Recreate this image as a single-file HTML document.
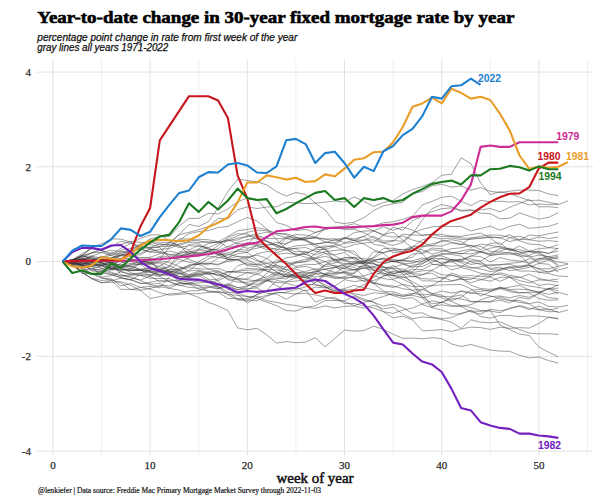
<!DOCTYPE html>
<html><head><meta charset="utf-8"><style>
html,body{margin:0;padding:0;background:#fff;width:600px;height:500px;overflow:hidden}
svg{display:block}
</style></head><body>
<svg width="600" height="500" viewBox="0 0 600 500">
<rect width="600" height="500" fill="#fff"/>
<g stroke="#f0f0f0" stroke-width="1"><line x1="101.5" y1="59" x2="101.5" y2="455" /><line x1="198.7" y1="59" x2="198.7" y2="455" /><line x1="295.9" y1="59" x2="295.9" y2="455" /><line x1="393.1" y1="59" x2="393.1" y2="455" /><line x1="490.3" y1="59" x2="490.3" y2="455" /><line x1="587.5" y1="59" x2="587.5" y2="455" /></g>
<g stroke="#e2e2e2" stroke-width="1"><line x1="52.9" y1="59" x2="52.9" y2="455" /><line x1="150.1" y1="59" x2="150.1" y2="455" /><line x1="247.3" y1="59" x2="247.3" y2="455" /><line x1="344.5" y1="59" x2="344.5" y2="455" /><line x1="441.7" y1="59" x2="441.7" y2="455" /><line x1="538.9" y1="59" x2="538.9" y2="455" /><line x1="37" y1="451.1" x2="593" y2="451.1" /><line x1="37" y1="356.4" x2="593" y2="356.4" /><line x1="37" y1="261.6" x2="593" y2="261.6" /><line x1="37" y1="166.8" x2="593" y2="166.8" /><line x1="37" y1="72.1" x2="593" y2="72.1" /></g>
<g fill="none" stroke="#333" stroke-opacity="0.72" stroke-width="0.65" stroke-linejoin="round"><path d="M62.6,261.6 L72.3,263.9 L82.1,265.5 L91.8,268.9 L101.5,270.2 L111.2,273.2 L120.9,275.9 L130.7,276.5 L140.4,280.4 L150.1,284.7 L159.8,286.7 L169.5,288.4 L179.3,290.1 L189.0,293.7 L198.7,297.5 L208.4,302.4 L218.1,305.9 L227.9,310.6 L237.6,327.9 L247.3,329.8 L257.0,328.3 L266.7,334.8 L276.5,343.1 L286.2,341.6 L295.9,342.7 L305.6,342.1 L315.3,337.7 L325.1,346.8 L334.8,338.4 L344.5,330.0 L354.2,331.1 L363.9,330.6 L373.7,326.2 L383.4,329.5 L393.1,334.2 L402.8,338.4 L412.5,338.0 L422.3,338.8 L432.0,337.7 L441.7,338.6 L451.4,343.9 L461.1,346.5 L470.9,344.5 L480.6,347.2 L490.3,350.0 L500.0,351.1 L509.7,351.4 L519.5,355.2 L529.2,357.9 L538.9,357.0 L548.6,360.6 L558.3,363.0"/><path d="M62.6,261.6 L72.3,262.2 L82.1,258.3 L91.8,261.3 L101.5,259.5 L111.2,258.4 L120.9,251.8 L130.7,253.4 L140.4,247.8 L150.1,248.5 L159.8,246.5 L169.5,242.6 L179.3,234.7 L189.0,232.3 L198.7,229.7 L208.4,226.6 L218.1,218.4 L227.9,218.7 L237.6,209.9 L247.3,206.9 L257.0,208.5 L266.7,207.0 L276.5,206.8 L286.2,202.3 L295.9,202.8 L305.6,203.6 L315.3,203.2 L325.1,202.1 L334.8,201.0 L344.5,202.0 L354.2,197.0 L363.9,201.3 L373.7,206.4 L383.4,202.5 L393.1,200.5 L402.8,194.0 L412.5,189.5 L422.3,186.5 L432.0,182.7 L441.7,175.3 L451.4,174.2 L461.1,157.9 L470.9,163.5 L480.6,182.9 L490.3,194.6 L500.0,191.7 L509.7,193.8 L519.5,197.0 L529.2,200.5 L538.9,200.2 L548.6,202.4 L558.3,203.9"/><path d="M62.6,261.6 L72.3,262.7 L82.1,264.2 L91.8,263.1 L101.5,265.9 L111.2,270.1 L120.9,269.1 L130.7,270.0 L140.4,269.2 L150.1,267.9 L159.8,269.8 L169.5,271.3 L179.3,272.4 L189.0,275.6 L198.7,274.5 L208.4,273.0 L218.1,274.9 L227.9,277.0 L237.6,278.2 L247.3,279.8 L257.0,280.8 L266.7,280.9 L276.5,282.4 L286.2,283.0 L295.9,286.0 L305.6,284.5 L315.3,284.7 L325.1,287.3 L334.8,290.9 L344.5,288.5 L354.2,285.3 L363.9,287.9 L373.7,289.8 L383.4,292.0 L393.1,291.7 L402.8,295.0 L412.5,293.4 L422.3,294.8 L432.0,294.2 L441.7,297.8 L451.4,301.5 L461.1,305.6 L470.9,307.5 L480.6,310.5 L490.3,310.3 L500.0,325.0 L509.7,329.6 L519.5,334.2 L529.2,335.4 L538.9,347.0 L548.6,352.2 L558.3,356.8"/><path d="M62.6,261.6 L72.3,261.6 L82.1,262.3 L91.8,266.5 L101.5,268.1 L111.2,272.1 L120.9,275.9 L130.7,274.9 L140.4,275.4 L150.1,278.3 L159.8,278.5 L169.5,278.8 L179.3,282.3 L189.0,284.5 L198.7,285.5 L208.4,291.9 L218.1,292.3 L227.9,292.3 L237.6,292.9 L247.3,296.5 L257.0,296.3 L266.7,300.7 L276.5,302.4 L286.2,304.3 L295.9,305.5 L305.6,307.5 L315.3,308.2 L325.1,305.9 L334.8,307.9 L344.5,306.4 L354.2,306.0 L363.9,308.2 L373.7,305.3 L383.4,308.9 L393.1,307.3 L402.8,314.0 L412.5,318.8 L422.3,317.0 L432.0,317.7 L441.7,319.5 L451.4,322.2 L461.1,328.3 L470.9,319.8 L480.6,322.2 L490.3,322.8 L500.0,321.8 L509.7,326.0 L519.5,329.6 L529.2,333.0 L538.9,333.8 L548.6,333.8 L558.3,334.4"/><path d="M62.6,261.6 L72.3,259.5 L82.1,256.9 L91.8,255.9 L101.5,258.3 L111.2,252.2 L120.9,254.3 L130.7,255.5 L140.4,254.9 L150.1,249.3 L159.8,252.7 L169.5,243.2 L179.3,234.3 L189.0,224.4 L198.7,226.4 L208.4,221.6 L218.1,207.8 L227.9,191.5 L237.6,179.2 L247.3,180.5 L257.0,181.8 L266.7,184.9 L276.5,191.6 L286.2,196.1 L295.9,192.5 L305.6,194.5 L315.3,203.2 L325.1,210.0 L334.8,222.2 L344.5,223.6 L354.2,222.1 L363.9,217.7 L373.7,210.5 L383.4,205.9 L393.1,203.9 L402.8,202.2 L412.5,193.5 L422.3,191.6 L432.0,185.7 L441.7,184.3 L451.4,187.1 L461.1,186.0 L470.9,190.2 L480.6,187.5 L490.3,191.3 L500.0,192.5 L509.7,191.2 L519.5,190.0 L529.2,190.0 L538.9,190.6 L548.6,194.0 L558.3,195.7"/><path d="M62.6,261.6 L72.3,262.6 L82.1,261.8 L91.8,264.3 L101.5,259.9 L111.2,259.6 L120.9,253.3 L130.7,250.8 L140.4,244.9 L150.1,239.1 L159.8,236.2 L169.5,236.5 L179.3,225.8 L189.0,218.4 L198.7,218.4 L208.4,213.4 L218.1,213.9 L227.9,208.9 L237.6,201.8 L247.3,198.0 L257.0,199.1 L266.7,210.5 L276.5,222.5 L286.2,225.3 L295.9,230.6 L305.6,229.3 L315.3,232.5 L325.1,228.9 L334.8,227.9 L344.5,227.9 L354.2,228.3 L363.9,226.9 L373.7,225.8 L383.4,222.8 L393.1,221.8 L402.8,219.2 L412.5,216.1 L422.3,204.9 L432.0,201.3 L441.7,197.3 L451.4,196.2 L461.1,201.2 L470.9,205.7 L480.6,200.4 L490.3,201.7 L500.0,201.2 L509.7,202.0 L519.5,201.6 L529.2,204.9 L538.9,204.1 L548.6,204.6 L558.3,204.6 L568.1,200.8"/><path d="M62.6,261.6 L72.3,260.5 L82.1,255.3 L91.8,253.0 L101.5,248.7 L111.2,246.1 L120.9,244.5 L130.7,241.4 L140.4,242.3 L150.1,242.6 L159.8,244.4 L169.5,244.9 L179.3,247.3 L189.0,245.7 L198.7,246.3 L208.4,247.5 L218.1,243.5 L227.9,240.1 L237.6,240.1 L247.3,235.8 L257.0,234.2 L266.7,232.2 L276.5,234.6 L286.2,237.9 L295.9,234.5 L305.6,235.0 L315.3,237.2 L325.1,241.9 L334.8,243.4 L344.5,247.7 L354.2,244.7 L363.9,243.0 L373.7,242.2 L383.4,235.2 L393.1,227.1 L402.8,230.1 L412.5,220.7 L422.3,216.3 L432.0,211.6 L441.7,208.7 L451.4,207.9 L461.1,211.1 L470.9,210.6 L480.6,209.8 L490.3,208.5 L500.0,211.8 L509.7,207.3 L519.5,203.4 L529.2,199.5 L538.9,206.8 L548.6,206.7 L558.3,207.7"/><path d="M62.6,261.6 L72.3,259.8 L82.1,255.5 L91.8,247.4 L101.5,250.7 L111.2,255.7 L120.9,250.1 L130.7,248.6 L140.4,244.9 L150.1,242.0 L159.8,242.3 L169.5,242.6 L179.3,245.0 L189.0,255.2 L198.7,256.1 L208.4,250.9 L218.1,254.9 L227.9,254.1 L237.6,256.5 L247.3,258.6 L257.0,253.9 L266.7,251.5 L276.5,252.6 L286.2,249.7 L295.9,254.2 L305.6,254.5 L315.3,248.5 L325.1,245.8 L334.8,246.5 L344.5,243.3 L354.2,242.5 L363.9,240.1 L373.7,239.9 L383.4,243.2 L393.1,245.4 L402.8,242.5 L412.5,234.4 L422.3,219.7 L432.0,208.6 L441.7,204.5 L451.4,206.8 L461.1,210.3 L470.9,209.8 L480.6,213.2 L490.3,213.7 L500.0,218.8 L509.7,218.2 L519.5,212.9 L529.2,216.2 L538.9,219.2 L548.6,217.3 L558.3,212.8"/><path d="M62.6,261.6 L72.3,262.3 L82.1,264.2 L91.8,261.2 L101.5,256.2 L111.2,259.2 L120.9,261.2 L130.7,259.9 L140.4,261.0 L150.1,263.1 L159.8,257.6 L169.5,258.8 L179.3,256.7 L189.0,254.6 L198.7,254.4 L208.4,251.9 L218.1,245.6 L227.9,237.4 L237.6,233.8 L247.3,234.0 L257.0,239.3 L266.7,241.4 L276.5,246.7 L286.2,248.3 L295.9,245.9 L305.6,245.1 L315.3,243.8 L325.1,242.8 L334.8,239.5 L344.5,237.8 L354.2,240.1 L363.9,240.1 L373.7,236.5 L383.4,241.1 L393.1,240.5 L402.8,241.3 L412.5,232.9 L422.3,229.3 L432.0,226.9 L441.7,226.2 L451.4,226.5 L461.1,226.4 L470.9,231.0 L480.6,228.5 L490.3,226.2 L500.0,230.2 L509.7,226.4 L519.5,224.3 L529.2,228.3 L538.9,227.4 L548.6,226.3 L558.3,223.3"/><path d="M62.6,261.6 L72.3,260.7 L82.1,259.9 L91.8,257.7 L101.5,259.9 L111.2,261.1 L120.9,255.1 L130.7,250.9 L140.4,243.8 L150.1,244.6 L159.8,246.5 L169.5,246.3 L179.3,238.8 L189.0,239.0 L198.7,240.8 L208.4,242.5 L218.1,242.7 L227.9,239.6 L237.6,235.9 L247.3,232.3 L257.0,230.2 L266.7,230.8 L276.5,233.1 L286.2,234.6 L295.9,239.4 L305.6,239.4 L315.3,237.1 L325.1,239.0 L334.8,238.7 L344.5,242.7 L354.2,240.4 L363.9,244.1 L373.7,249.7 L383.4,253.3 L393.1,261.4 L402.8,259.5 L412.5,257.2 L422.3,246.9 L432.0,245.6 L441.7,246.2 L451.4,242.9 L461.1,244.7 L470.9,237.7 L480.6,238.4 L490.3,236.6 L500.0,238.2 L509.7,234.7 L519.5,240.1 L529.2,235.0 L538.9,235.8 L548.6,233.8 L558.3,232.0"/><path d="M62.6,261.6 L72.3,260.0 L82.1,253.5 L91.8,248.9 L101.5,250.2 L111.2,246.6 L120.9,241.3 L130.7,243.3 L140.4,246.1 L150.1,247.5 L159.8,243.8 L169.5,245.2 L179.3,245.2 L189.0,242.3 L198.7,242.4 L208.4,241.8 L218.1,241.9 L227.9,241.1 L237.6,238.1 L247.3,236.7 L257.0,235.6 L266.7,238.5 L276.5,238.7 L286.2,238.7 L295.9,239.6 L305.6,237.4 L315.3,232.5 L325.1,229.7 L334.8,227.5 L344.5,229.5 L354.2,229.2 L363.9,232.8 L373.7,237.7 L383.4,242.7 L393.1,241.3 L402.8,234.2 L412.5,234.9 L422.3,235.4 L432.0,234.3 L441.7,236.7 L451.4,236.3 L461.1,237.8 L470.9,238.4 L480.6,236.2 L490.3,235.0 L500.0,235.2 L509.7,237.4 L519.5,236.2 L529.2,239.6 L538.9,236.9 L548.6,238.5 L558.3,237.2"/><path d="M62.6,261.6 L72.3,261.8 L82.1,262.4 L91.8,262.5 L101.5,259.7 L111.2,258.8 L120.9,255.3 L130.7,253.2 L140.4,247.0 L150.1,247.5 L159.8,247.5 L169.5,257.6 L179.3,259.4 L189.0,262.3 L198.7,264.3 L208.4,258.9 L218.1,255.4 L227.9,252.6 L237.6,251.0 L247.3,244.4 L257.0,245.3 L266.7,247.7 L276.5,254.3 L286.2,253.2 L295.9,254.2 L305.6,257.2 L315.3,259.9 L325.1,266.7 L334.8,265.2 L344.5,268.5 L354.2,263.5 L363.9,261.2 L373.7,257.9 L383.4,252.3 L393.1,250.2 L402.8,251.9 L412.5,247.0 L422.3,239.9 L432.0,237.0 L441.7,238.9 L451.4,238.0 L461.1,239.5 L470.9,239.5 L480.6,238.0 L490.3,237.5 L500.0,237.6 L509.7,241.6 L519.5,239.2 L529.2,239.8 L538.9,241.2 L548.6,240.7 L558.3,241.5"/><path d="M62.6,261.6 L72.3,260.8 L82.1,260.0 L91.8,260.1 L101.5,259.8 L111.2,254.1 L120.9,248.3 L130.7,243.4 L140.4,238.3 L150.1,235.0 L159.8,234.7 L169.5,240.9 L179.3,246.7 L189.0,250.0 L198.7,245.3 L208.4,249.0 L218.1,250.1 L227.9,259.6 L237.6,259.4 L247.3,264.7 L257.0,264.3 L266.7,258.6 L276.5,250.4 L286.2,243.4 L295.9,239.9 L305.6,238.6 L315.3,237.6 L325.1,227.5 L334.8,226.8 L344.5,226.2 L354.2,223.7 L363.9,226.7 L373.7,230.9 L383.4,234.5 L393.1,232.2 L402.8,240.1 L412.5,248.4 L422.3,253.8 L432.0,264.1 L441.7,265.7 L451.4,259.8 L461.1,259.4 L470.9,256.2 L480.6,252.1 L490.3,254.2 L500.0,252.0 L509.7,253.0 L519.5,253.9 L529.2,251.3 L538.9,248.7 L548.6,247.9 L558.3,244.6"/><path d="M62.6,261.6 L72.3,262.9 L82.1,266.6 L91.8,269.1 L101.5,270.0 L111.2,268.5 L120.9,265.4 L130.7,269.1 L140.4,264.0 L150.1,272.0 L159.8,275.2 L169.5,275.6 L179.3,274.0 L189.0,270.7 L198.7,263.2 L208.4,264.8 L218.1,257.9 L227.9,255.1 L237.6,251.0 L247.3,252.4 L257.0,244.7 L266.7,244.7 L276.5,244.7 L286.2,236.6 L295.9,237.9 L305.6,237.9 L315.3,238.2 L325.1,239.2 L334.8,240.8 L344.5,238.7 L354.2,232.6 L363.9,231.1 L373.7,230.8 L383.4,226.9 L393.1,230.2 L402.8,227.0 L412.5,230.2 L422.3,235.2 L432.0,234.5 L441.7,234.3 L451.4,236.3 L461.1,236.3 L470.9,234.7 L480.6,233.0 L490.3,238.0 L500.0,245.3 L509.7,237.7 L519.5,240.7 L529.2,244.0 L538.9,244.6 L548.6,247.6 L558.3,248.6"/><path d="M62.6,261.6 L72.3,260.4 L82.1,257.8 L91.8,252.7 L101.5,250.1 L111.2,253.8 L120.9,255.8 L130.7,255.9 L140.4,257.6 L150.1,258.4 L159.8,259.2 L169.5,246.9 L179.3,240.5 L189.0,233.5 L198.7,231.6 L208.4,230.6 L218.1,227.5 L227.9,226.4 L237.6,221.7 L247.3,217.5 L257.0,221.0 L266.7,228.8 L276.5,239.4 L286.2,249.1 L295.9,248.5 L305.6,254.4 L315.3,258.2 L325.1,261.5 L334.8,266.5 L344.5,272.1 L354.2,273.5 L363.9,265.7 L373.7,266.5 L383.4,263.7 L393.1,261.1 L402.8,260.2 L412.5,262.2 L422.3,261.6 L432.0,255.7 L441.7,254.7 L451.4,253.2 L461.1,251.0 L470.9,249.1 L480.6,251.6 L490.3,253.8 L500.0,248.3 L509.7,249.5 L519.5,251.9 L529.2,255.5 L538.9,251.1 L548.6,253.5 L558.3,248.2"/><path d="M62.6,261.6 L72.3,265.4 L82.1,271.5 L91.8,278.9 L101.5,282.9 L111.2,280.6 L120.9,289.3 L130.7,289.4 L140.4,290.3 L150.1,298.5 L159.8,296.6 L169.5,293.8 L179.3,293.3 L189.0,291.0 L198.7,290.6 L208.4,287.5 L218.1,285.1 L227.9,285.8 L237.6,276.6 L247.3,272.8 L257.0,274.6 L266.7,268.5 L276.5,259.9 L286.2,263.4 L295.9,262.9 L305.6,261.4 L315.3,253.4 L325.1,247.3 L334.8,245.0 L344.5,237.7 L354.2,238.9 L363.9,236.5 L373.7,230.8 L383.4,235.5 L393.1,237.2 L402.8,235.9 L412.5,240.0 L422.3,242.5 L432.0,246.1 L441.7,240.3 L451.4,242.2 L461.1,244.1 L470.9,245.8 L480.6,246.1 L490.3,251.6 L500.0,251.0 L509.7,248.2 L519.5,252.2 L529.2,251.6 L538.9,251.9 L548.6,253.3 L558.3,251.0"/><path d="M62.6,261.6 L72.3,260.5 L82.1,255.8 L91.8,258.8 L101.5,263.8 L111.2,262.6 L120.9,261.7 L130.7,261.7 L140.4,263.4 L150.1,261.0 L159.8,256.3 L169.5,256.3 L179.3,256.3 L189.0,252.1 L198.7,253.9 L208.4,255.0 L218.1,253.0 L227.9,258.0 L237.6,249.5 L247.3,250.2 L257.0,248.2 L266.7,245.7 L276.5,242.3 L286.2,244.2 L295.9,237.6 L305.6,240.0 L315.3,247.1 L325.1,247.9 L334.8,262.0 L344.5,263.4 L354.2,263.3 L363.9,263.5 L373.7,251.6 L383.4,252.8 L393.1,249.8 L402.8,249.7 L412.5,249.3 L422.3,252.3 L432.0,248.1 L441.7,248.6 L451.4,252.5 L461.1,254.0 L470.9,250.3 L480.6,251.7 L490.3,248.1 L500.0,246.5 L509.7,248.7 L519.5,254.5 L529.2,257.2 L538.9,255.2 L548.6,256.8 L558.3,254.9"/><path d="M62.6,261.6 L72.3,260.0 L82.1,255.1 L91.8,259.7 L101.5,256.7 L111.2,257.7 L120.9,255.7 L130.7,256.2 L140.4,258.3 L150.1,257.3 L159.8,253.8 L169.5,251.0 L179.3,253.6 L189.0,250.8 L198.7,253.7 L208.4,251.9 L218.1,254.3 L227.9,250.3 L237.6,244.6 L247.3,248.4 L257.0,245.8 L266.7,249.7 L276.5,248.3 L286.2,238.2 L295.9,240.2 L305.6,239.9 L315.3,244.5 L325.1,242.3 L334.8,242.8 L344.5,238.0 L354.2,240.9 L363.9,236.1 L373.7,244.4 L383.4,245.9 L393.1,252.5 L402.8,251.8 L412.5,247.9 L422.3,249.7 L432.0,254.1 L441.7,251.7 L451.4,248.7 L461.1,247.8 L470.9,245.2 L480.6,249.6 L490.3,243.3 L500.0,242.9 L509.7,250.8 L519.5,246.1 L529.2,250.9 L538.9,252.1 L548.6,259.6 L558.3,257.6"/><path d="M62.6,261.6 L72.3,261.0 L82.1,259.2 L91.8,256.2 L101.5,252.6 L111.2,255.5 L120.9,258.7 L130.7,259.0 L140.4,260.7 L150.1,262.6 L159.8,263.2 L169.5,271.5 L179.3,273.1 L189.0,277.5 L198.7,276.2 L208.4,271.8 L218.1,276.0 L227.9,271.4 L237.6,272.7 L247.3,272.5 L257.0,272.1 L266.7,266.6 L276.5,265.3 L286.2,267.3 L295.9,262.7 L305.6,261.7 L315.3,258.5 L325.1,256.3 L334.8,259.6 L344.5,257.9 L354.2,257.6 L363.9,258.7 L373.7,259.4 L383.4,259.5 L393.1,261.7 L402.8,260.4 L412.5,254.1 L422.3,253.6 L432.0,249.8 L441.7,250.6 L451.4,252.6 L461.1,253.5 L470.9,253.9 L480.6,251.8 L490.3,255.5 L500.0,254.3 L509.7,254.2 L519.5,255.3 L529.2,263.9 L538.9,260.2 L548.6,258.3 L558.3,256.3"/><path d="M62.6,261.6 L72.3,261.9 L82.1,260.0 L91.8,262.0 L101.5,268.5 L111.2,266.7 L120.9,259.6 L130.7,252.8 L140.4,253.4 L150.1,248.6 L159.8,251.5 L169.5,254.4 L179.3,254.2 L189.0,259.5 L198.7,263.1 L208.4,263.2 L218.1,265.1 L227.9,259.7 L237.6,260.1 L247.3,260.0 L257.0,264.3 L266.7,267.3 L276.5,267.3 L286.2,273.9 L295.9,269.0 L305.6,272.9 L315.3,273.1 L325.1,273.9 L334.8,277.9 L344.5,276.8 L354.2,272.7 L363.9,262.7 L373.7,257.1 L383.4,248.5 L393.1,248.2 L402.8,250.1 L412.5,246.4 L422.3,246.4 L432.0,243.8 L441.7,241.6 L451.4,239.7 L461.1,241.5 L470.9,247.5 L480.6,244.1 L490.3,245.3 L500.0,247.0 L509.7,250.0 L519.5,249.7 L529.2,251.9 L538.9,253.5 L548.6,257.0 L558.3,259.0"/><path d="M62.6,261.6 L72.3,261.7 L82.1,260.8 L91.8,265.7 L101.5,264.5 L111.2,268.7 L120.9,270.6 L130.7,270.8 L140.4,270.0 L150.1,268.6 L159.8,272.4 L169.5,270.0 L179.3,262.4 L189.0,257.8 L198.7,249.8 L208.4,250.8 L218.1,248.8 L227.9,239.8 L237.6,243.6 L247.3,244.3 L257.0,234.9 L266.7,241.0 L276.5,244.8 L286.2,248.5 L295.9,251.8 L305.6,251.4 L315.3,254.9 L325.1,251.5 L334.8,250.4 L344.5,249.8 L354.2,254.1 L363.9,260.4 L373.7,261.1 L383.4,263.6 L393.1,260.8 L402.8,263.9 L412.5,263.2 L422.3,259.5 L432.0,256.5 L441.7,255.8 L451.4,259.6 L461.1,261.1 L470.9,255.9 L480.6,256.6 L490.3,261.9 L500.0,257.5 L509.7,260.0 L519.5,260.9 L529.2,263.3 L538.9,258.3 L548.6,259.2 L558.3,262.0 L568.1,263.6"/><path d="M62.6,261.6 L72.3,262.2 L82.1,263.1 L91.8,265.1 L101.5,264.7 L111.2,268.0 L120.9,270.1 L130.7,268.6 L140.4,269.9 L150.1,270.5 L159.8,266.0 L169.5,260.4 L179.3,252.1 L189.0,252.1 L198.7,248.9 L208.4,243.5 L218.1,241.8 L227.9,236.4 L237.6,230.8 L247.3,229.4 L257.0,227.7 L266.7,229.6 L276.5,233.8 L286.2,233.6 L295.9,236.9 L305.6,241.1 L315.3,244.8 L325.1,249.5 L334.8,255.8 L344.5,260.8 L354.2,261.6 L363.9,261.2 L373.7,260.8 L383.4,258.3 L393.1,261.6 L402.8,263.0 L412.5,268.0 L422.3,261.1 L432.0,258.0 L441.7,258.8 L451.4,261.1 L461.1,266.9 L470.9,260.9 L480.6,261.1 L490.3,255.2 L500.0,253.9 L509.7,252.4 L519.5,256.3 L529.2,255.9 L538.9,263.1 L548.6,260.0 L558.3,264.6"/><path d="M62.6,261.6 L72.3,262.3 L82.1,265.9 L91.8,266.3 L101.5,277.2 L111.2,275.7 L120.9,271.7 L130.7,274.9 L140.4,273.5 L150.1,271.8 L159.8,275.0 L169.5,273.0 L179.3,267.8 L189.0,266.8 L198.7,261.8 L208.4,256.1 L218.1,257.4 L227.9,259.1 L237.6,256.3 L247.3,256.6 L257.0,260.8 L266.7,263.2 L276.5,267.0 L286.2,269.9 L295.9,267.6 L305.6,266.3 L315.3,269.3 L325.1,274.7 L334.8,276.5 L344.5,278.1 L354.2,277.2 L363.9,278.6 L373.7,283.6 L383.4,275.6 L393.1,275.3 L402.8,274.8 L412.5,272.6 L422.3,270.8 L432.0,270.1 L441.7,265.2 L451.4,266.1 L461.1,265.8 L470.9,268.1 L480.6,266.9 L490.3,264.7 L500.0,264.9 L509.7,264.3 L519.5,267.3 L529.2,265.8 L538.9,268.7 L548.6,268.9 L558.3,266.2 L568.1,264.3"/><path d="M62.6,261.6 L72.3,260.5 L82.1,256.6 L91.8,252.9 L101.5,252.4 L111.2,250.2 L120.9,251.7 L130.7,250.9 L140.4,249.2 L150.1,252.1 L159.8,252.8 L169.5,254.9 L179.3,255.6 L189.0,253.7 L198.7,252.6 L208.4,251.4 L218.1,252.2 L227.9,257.8 L237.6,253.7 L247.3,252.4 L257.0,259.7 L266.7,265.9 L276.5,271.9 L286.2,274.8 L295.9,274.6 L305.6,275.3 L315.3,282.7 L325.1,273.1 L334.8,273.1 L344.5,273.2 L354.2,276.8 L363.9,275.9 L373.7,272.7 L383.4,274.2 L393.1,271.1 L402.8,271.1 L412.5,265.1 L422.3,263.7 L432.0,258.3 L441.7,263.8 L451.4,259.9 L461.1,261.0 L470.9,264.4 L480.6,263.0 L490.3,265.9 L500.0,264.6 L509.7,263.3 L519.5,262.4 L529.2,258.9 L538.9,259.1 L548.6,256.3 L558.3,267.1"/><path d="M62.6,261.6 L72.3,262.6 L82.1,265.2 L91.8,264.3 L101.5,265.4 L111.2,263.7 L120.9,264.8 L130.7,263.5 L140.4,264.6 L150.1,264.5 L159.8,262.1 L169.5,265.9 L179.3,270.1 L189.0,274.6 L198.7,271.1 L208.4,273.6 L218.1,273.9 L227.9,278.9 L237.6,279.9 L247.3,285.0 L257.0,287.4 L266.7,280.7 L276.5,279.2 L286.2,276.2 L295.9,273.3 L305.6,271.4 L315.3,268.9 L325.1,269.2 L334.8,267.0 L344.5,264.4 L354.2,262.5 L363.9,262.5 L373.7,263.6 L383.4,267.5 L393.1,267.4 L402.8,264.3 L412.5,266.6 L422.3,266.4 L432.0,262.2 L441.7,258.3 L451.4,259.8 L461.1,262.6 L470.9,267.6 L480.6,268.9 L490.3,271.6 L500.0,270.5 L509.7,268.1 L519.5,267.4 L529.2,264.7 L538.9,269.1 L548.6,272.2 L558.3,267.7"/><path d="M62.6,261.6 L72.3,261.7 L82.1,258.8 L91.8,261.7 L101.5,262.6 L111.2,268.9 L120.9,263.1 L130.7,259.8 L140.4,260.7 L150.1,262.9 L159.8,268.8 L169.5,271.2 L179.3,271.1 L189.0,265.1 L198.7,264.2 L208.4,268.8 L218.1,271.7 L227.9,275.6 L237.6,279.0 L247.3,284.0 L257.0,284.3 L266.7,280.1 L276.5,277.8 L286.2,279.0 L295.9,272.6 L305.6,273.2 L315.3,271.9 L325.1,264.7 L334.8,259.7 L344.5,260.0 L354.2,257.8 L363.9,261.9 L373.7,269.8 L383.4,273.8 L393.1,275.3 L402.8,277.7 L412.5,276.2 L422.3,278.6 L432.0,279.1 L441.7,277.1 L451.4,280.6 L461.1,279.4 L470.9,279.5 L480.6,274.7 L490.3,275.1 L500.0,269.3 L509.7,266.9 L519.5,271.1 L529.2,271.0 L538.9,272.1 L548.6,271.8 L558.3,270.1 L568.1,267.4"/><path d="M62.6,261.6 L72.3,260.1 L82.1,260.0 L91.8,256.4 L101.5,262.2 L111.2,260.1 L120.9,258.3 L130.7,258.3 L140.4,263.7 L150.1,263.3 L159.8,266.7 L169.5,270.0 L179.3,269.3 L189.0,267.8 L198.7,268.7 L208.4,269.2 L218.1,268.4 L227.9,272.0 L237.6,271.5 L247.3,270.1 L257.0,269.8 L266.7,270.6 L276.5,275.7 L286.2,276.9 L295.9,277.8 L305.6,276.4 L315.3,284.6 L325.1,286.3 L334.8,292.8 L344.5,290.1 L354.2,289.5 L363.9,284.8 L373.7,277.4 L383.4,270.2 L393.1,273.8 L402.8,271.6 L412.5,271.7 L422.3,263.6 L432.0,258.7 L441.7,253.4 L451.4,254.4 L461.1,256.1 L470.9,261.9 L480.6,264.4 L490.3,268.4 L500.0,267.2 L509.7,270.8 L519.5,269.2 L529.2,267.3 L538.9,263.3 L548.6,264.3 L558.3,272.2"/><path d="M62.6,261.6 L72.3,264.0 L82.1,268.4 L91.8,273.4 L101.5,278.4 L111.2,278.7 L120.9,285.9 L130.7,283.5 L140.4,287.3 L150.1,286.4 L159.8,287.8 L169.5,277.0 L179.3,269.4 L189.0,265.2 L198.7,264.2 L208.4,263.5 L218.1,264.2 L227.9,261.5 L237.6,259.5 L247.3,257.2 L257.0,255.1 L266.7,258.3 L276.5,265.3 L286.2,269.6 L295.9,273.6 L305.6,274.7 L315.3,276.9 L325.1,276.1 L334.8,274.8 L344.5,271.6 L354.2,269.7 L363.9,265.7 L373.7,260.4 L383.4,258.1 L393.1,259.3 L402.8,260.9 L412.5,260.8 L422.3,258.0 L432.0,260.2 L441.7,263.0 L451.4,262.0 L461.1,259.4 L470.9,258.9 L480.6,261.3 L490.3,269.5 L500.0,269.1 L509.7,267.0 L519.5,266.0 L529.2,264.9 L538.9,272.4 L548.6,273.6 L558.3,276.0 L568.1,276.5"/><path d="M62.6,261.6 L72.3,260.6 L82.1,260.9 L91.8,260.5 L101.5,259.6 L111.2,262.9 L120.9,260.9 L130.7,267.7 L140.4,263.0 L150.1,266.6 L159.8,269.7 L169.5,272.6 L179.3,276.7 L189.0,278.8 L198.7,279.5 L208.4,282.7 L218.1,286.8 L227.9,292.0 L237.6,299.2 L247.3,300.1 L257.0,300.8 L266.7,296.2 L276.5,293.0 L286.2,292.3 L295.9,289.4 L305.6,287.0 L315.3,282.6 L325.1,274.9 L334.8,267.4 L344.5,268.8 L354.2,269.5 L363.9,268.3 L373.7,270.4 L383.4,270.1 L393.1,265.5 L402.8,271.5 L412.5,269.6 L422.3,269.6 L432.0,264.5 L441.7,264.1 L451.4,269.8 L461.1,267.5 L470.9,270.1 L480.6,273.2 L490.3,274.4 L500.0,274.3 L509.7,276.9 L519.5,277.7 L529.2,274.1 L538.9,278.6 L548.6,280.2 L558.3,279.1"/><path d="M62.6,261.6 L72.3,262.7 L82.1,264.6 L91.8,271.0 L101.5,271.5 L111.2,267.1 L120.9,269.3 L130.7,270.4 L140.4,270.3 L150.1,272.1 L159.8,270.7 L169.5,273.2 L179.3,276.5 L189.0,276.6 L198.7,275.2 L208.4,281.3 L218.1,283.6 L227.9,285.4 L237.6,289.9 L247.3,286.6 L257.0,279.7 L266.7,276.9 L276.5,272.1 L286.2,276.9 L295.9,276.1 L305.6,277.8 L315.3,271.7 L325.1,269.4 L334.8,267.6 L344.5,265.2 L354.2,264.3 L363.9,262.9 L373.7,264.1 L383.4,266.4 L393.1,274.0 L402.8,271.1 L412.5,273.9 L422.3,280.9 L432.0,280.9 L441.7,281.7 L451.4,281.3 L461.1,278.4 L470.9,282.7 L480.6,279.9 L490.3,276.9 L500.0,281.3 L509.7,277.2 L519.5,280.6 L529.2,282.8 L538.9,279.8 L548.6,280.7 L558.3,282.1"/><path d="M62.6,261.6 L72.3,264.1 L82.1,264.4 L91.8,262.3 L101.5,265.4 L111.2,261.2 L120.9,267.2 L130.7,264.6 L140.4,261.7 L150.1,260.2 L159.8,271.1 L169.5,272.0 L179.3,277.1 L189.0,277.0 L198.7,273.9 L208.4,274.5 L218.1,272.1 L227.9,279.8 L237.6,282.1 L247.3,282.4 L257.0,280.2 L266.7,279.3 L276.5,285.7 L286.2,290.2 L295.9,287.6 L305.6,291.0 L315.3,287.1 L325.1,287.9 L334.8,286.0 L344.5,279.6 L354.2,281.6 L363.9,280.3 L373.7,280.5 L383.4,276.4 L393.1,272.0 L402.8,272.1 L412.5,276.9 L422.3,274.9 L432.0,270.6 L441.7,274.8 L451.4,275.1 L461.1,277.5 L470.9,278.0 L480.6,279.4 L490.3,281.2 L500.0,277.4 L509.7,277.2 L519.5,284.0 L529.2,286.1 L538.9,287.4 L548.6,289.5 L558.3,284.5"/><path d="M62.6,261.6 L72.3,263.3 L82.1,268.9 L91.8,270.1 L101.5,272.5 L111.2,269.3 L120.9,267.8 L130.7,266.1 L140.4,269.5 L150.1,276.0 L159.8,271.6 L169.5,272.5 L179.3,273.6 L189.0,277.9 L198.7,281.1 L208.4,281.8 L218.1,288.0 L227.9,284.7 L237.6,287.5 L247.3,288.8 L257.0,288.0 L266.7,293.3 L276.5,294.1 L286.2,299.3 L295.9,293.9 L305.6,293.3 L315.3,294.9 L325.1,297.1 L334.8,299.1 L344.5,301.6 L354.2,305.6 L363.9,302.4 L373.7,299.5 L383.4,296.4 L393.1,293.5 L402.8,296.5 L412.5,294.2 L422.3,289.5 L432.0,285.4 L441.7,280.1 L451.4,273.0 L461.1,276.2 L470.9,275.6 L480.6,276.7 L490.3,276.5 L500.0,272.7 L509.7,275.3 L519.5,277.0 L529.2,280.7 L538.9,285.4 L548.6,284.0 L558.3,285.8"/><path d="M62.6,261.6 L72.3,261.8 L82.1,264.0 L91.8,266.2 L101.5,265.6 L111.2,269.7 L120.9,266.5 L130.7,272.6 L140.4,275.4 L150.1,276.1 L159.8,270.0 L169.5,266.1 L179.3,253.2 L189.0,244.5 L198.7,243.7 L208.4,249.3 L218.1,250.3 L227.9,246.6 L237.6,242.4 L247.3,239.6 L257.0,238.0 L266.7,241.2 L276.5,245.8 L286.2,248.2 L295.9,255.5 L305.6,252.2 L315.3,260.7 L325.1,269.4 L334.8,272.3 L344.5,272.4 L354.2,275.5 L363.9,278.4 L373.7,282.5 L383.4,284.9 L393.1,286.0 L402.8,288.7 L412.5,290.2 L422.3,289.3 L432.0,293.5 L441.7,295.1 L451.4,300.6 L461.1,297.0 L470.9,290.1 L480.6,289.4 L490.3,291.4 L500.0,288.8 L509.7,287.1 L519.5,285.3 L529.2,290.1 L538.9,292.3 L548.6,288.4 L558.3,288.2"/><path d="M62.6,261.6 L72.3,260.5 L82.1,256.0 L91.8,247.1 L101.5,243.9 L111.2,238.9 L120.9,239.1 L130.7,242.1 L140.4,248.8 L150.1,251.8 L159.8,249.2 L169.5,248.6 L179.3,243.8 L189.0,241.4 L198.7,239.2 L208.4,239.8 L218.1,241.5 L227.9,247.2 L237.6,245.9 L247.3,245.6 L257.0,241.3 L266.7,246.9 L276.5,249.7 L286.2,249.4 L295.9,248.3 L305.6,247.5 L315.3,251.3 L325.1,252.9 L334.8,260.5 L344.5,259.6 L354.2,265.4 L363.9,267.3 L373.7,267.1 L383.4,266.9 L393.1,268.9 L402.8,273.7 L412.5,284.1 L422.3,298.1 L432.0,307.4 L441.7,301.9 L451.4,305.6 L461.1,305.8 L470.9,304.8 L480.6,299.8 L490.3,296.6 L500.0,296.0 L509.7,297.8 L519.5,295.5 L529.2,297.3 L538.9,293.5 L548.6,288.4 L558.3,290.8"/><path d="M62.6,261.6 L72.3,262.8 L82.1,264.9 L91.8,268.8 L101.5,265.9 L111.2,262.5 L120.9,265.0 L130.7,266.2 L140.4,269.9 L150.1,270.5 L159.8,274.1 L169.5,274.6 L179.3,281.5 L189.0,274.8 L198.7,273.4 L208.4,279.2 L218.1,286.8 L227.9,294.8 L237.6,299.8 L247.3,301.1 L257.0,294.1 L266.7,291.7 L276.5,290.2 L286.2,281.7 L295.9,277.6 L305.6,280.9 L315.3,280.5 L325.1,284.8 L334.8,289.5 L344.5,289.9 L354.2,293.7 L363.9,295.5 L373.7,292.8 L383.4,293.5 L393.1,295.0 L402.8,296.1 L412.5,295.3 L422.3,297.9 L432.0,295.4 L441.7,296.5 L451.4,296.9 L461.1,290.7 L470.9,292.7 L480.6,291.3 L490.3,290.2 L500.0,287.4 L509.7,289.5 L519.5,289.2 L529.2,289.8 L538.9,292.0 L548.6,294.4 L558.3,292.3 L568.1,295.0"/><path d="M62.6,261.6 L72.3,265.3 L82.1,270.7 L91.8,274.6 L101.5,272.9 L111.2,274.6 L120.9,277.5 L130.7,280.2 L140.4,274.4 L150.1,274.4 L159.8,276.4 L169.5,281.8 L179.3,285.2 L189.0,287.3 L198.7,288.2 L208.4,286.9 L218.1,289.0 L227.9,283.4 L237.6,287.7 L247.3,285.8 L257.0,281.9 L266.7,273.6 L276.5,263.1 L286.2,257.8 L295.9,256.4 L305.6,252.9 L315.3,249.6 L325.1,249.5 L334.8,246.5 L344.5,250.6 L354.2,251.1 L363.9,262.0 L373.7,262.8 L383.4,269.7 L393.1,268.6 L402.8,269.0 L412.5,273.8 L422.3,274.3 L432.0,273.2 L441.7,278.8 L451.4,274.9 L461.1,278.3 L470.9,285.2 L480.6,288.6 L490.3,289.3 L500.0,288.4 L509.7,291.7 L519.5,293.0 L529.2,292.1 L538.9,292.6 L548.6,288.6 L558.3,293.9"/><path d="M62.6,261.6 L72.3,259.6 L82.1,259.0 L91.8,257.7 L101.5,262.7 L111.2,266.5 L120.9,268.3 L130.7,270.5 L140.4,270.5 L150.1,271.7 L159.8,276.3 L169.5,268.8 L179.3,270.6 L189.0,277.2 L198.7,271.9 L208.4,273.3 L218.1,281.2 L227.9,289.1 L237.6,294.0 L247.3,303.0 L257.0,297.6 L266.7,295.4 L276.5,292.1 L286.2,293.1 L295.9,294.0 L305.6,289.8 L315.3,302.2 L325.1,298.5 L334.8,297.3 L344.5,303.6 L354.2,303.5 L363.9,306.0 L373.7,308.1 L383.4,311.6 L393.1,313.4 L402.8,309.9 L412.5,308.0 L422.3,304.0 L432.0,300.8 L441.7,302.8 L451.4,297.0 L461.1,294.8 L470.9,301.6 L480.6,301.6 L490.3,302.0 L500.0,300.2 L509.7,302.9 L519.5,297.3 L529.2,299.1 L538.9,293.3 L548.6,297.6 L558.3,298.6"/><path d="M62.6,261.6 L72.3,262.8 L82.1,266.7 L91.8,274.6 L101.5,271.5 L111.2,274.6 L120.9,277.8 L130.7,279.7 L140.4,283.0 L150.1,284.0 L159.8,283.6 L169.5,288.1 L179.3,283.5 L189.0,283.2 L198.7,280.5 L208.4,280.0 L218.1,279.1 L227.9,272.1 L237.6,270.9 L247.3,268.3 L257.0,268.9 L266.7,269.5 L276.5,270.0 L286.2,271.7 L295.9,276.5 L305.6,277.3 L315.3,273.9 L325.1,276.3 L334.8,278.4 L344.5,278.4 L354.2,276.6 L363.9,281.4 L373.7,283.2 L383.4,285.7 L393.1,287.4 L402.8,284.4 L412.5,286.5 L422.3,286.4 L432.0,285.7 L441.7,284.9 L451.4,284.7 L461.1,284.5 L470.9,288.8 L480.6,296.0 L490.3,291.7 L500.0,287.1 L509.7,290.4 L519.5,292.5 L529.2,292.9 L538.9,298.6 L548.6,300.2 L558.3,299.9"/><path d="M62.6,261.6 L72.3,264.9 L82.1,273.5 L91.8,273.6 L101.5,277.3 L111.2,280.8 L120.9,278.2 L130.7,279.7 L140.4,283.6 L150.1,282.3 L159.8,280.3 L169.5,281.5 L179.3,285.5 L189.0,283.8 L198.7,289.1 L208.4,290.9 L218.1,292.2 L227.9,298.5 L237.6,298.4 L247.3,298.7 L257.0,294.9 L266.7,290.6 L276.5,280.5 L286.2,281.9 L295.9,281.0 L305.6,279.9 L315.3,273.8 L325.1,265.1 L334.8,263.0 L344.5,257.5 L354.2,257.4 L363.9,264.2 L373.7,275.7 L383.4,278.6 L393.1,279.8 L402.8,284.6 L412.5,290.5 L422.3,296.6 L432.0,303.8 L441.7,302.4 L451.4,298.7 L461.1,298.8 L470.9,301.7 L480.6,301.7 L490.3,301.7 L500.0,296.8 L509.7,300.3 L519.5,300.6 L529.2,303.5 L538.9,302.0 L548.6,306.4 L558.3,306.9 L568.1,305.4"/><path d="M62.6,261.6 L72.3,263.5 L82.1,263.6 L91.8,263.2 L101.5,262.7 L111.2,267.7 L120.9,271.7 L130.7,273.9 L140.4,272.9 L150.1,270.2 L159.8,269.2 L169.5,266.8 L179.3,257.2 L189.0,253.8 L198.7,250.0 L208.4,247.7 L218.1,254.4 L227.9,259.8 L237.6,259.3 L247.3,265.6 L257.0,266.7 L266.7,271.2 L276.5,273.2 L286.2,276.3 L295.9,275.4 L305.6,277.8 L315.3,278.4 L325.1,286.9 L334.8,291.2 L344.5,290.9 L354.2,295.0 L363.9,299.2 L373.7,302.4 L383.4,306.0 L393.1,304.3 L402.8,307.6 L412.5,313.4 L422.3,312.8 L432.0,317.1 L441.7,318.6 L451.4,317.7 L461.1,313.2 L470.9,311.1 L480.6,311.3 L490.3,311.0 L500.0,312.7 L509.7,307.9 L519.5,306.3 L529.2,309.5 L538.9,306.2 L548.6,310.0 L558.3,308.2"/><path d="M62.6,261.6 L72.3,262.2 L82.1,259.2 L91.8,259.1 L101.5,261.7 L111.2,263.1 L120.9,274.5 L130.7,278.0 L140.4,280.1 L150.1,275.9 L159.8,282.0 L169.5,280.5 L179.3,280.4 L189.0,282.2 L198.7,285.7 L208.4,286.0 L218.1,288.5 L227.9,286.9 L237.6,289.7 L247.3,289.6 L257.0,285.5 L266.7,280.8 L276.5,274.8 L286.2,266.3 L295.9,261.7 L305.6,259.3 L315.3,257.9 L325.1,253.3 L334.8,254.9 L344.5,252.4 L354.2,259.6 L363.9,263.9 L373.7,270.1 L383.4,272.5 L393.1,279.2 L402.8,276.2 L412.5,281.7 L422.3,287.2 L432.0,294.2 L441.7,291.0 L451.4,293.0 L461.1,291.4 L470.9,293.4 L480.6,293.6 L490.3,295.9 L500.0,298.9 L509.7,300.6 L519.5,302.3 L529.2,304.0 L538.9,309.6 L548.6,308.9 L558.3,312.6 L568.1,310.0"/><path d="M62.6,261.6 L72.3,264.8 L82.1,272.5 L91.8,278.5 L101.5,282.6 L111.2,282.4 L120.9,281.7 L130.7,285.3 L140.4,290.3 L150.1,288.5 L159.8,285.4 L169.5,285.8 L179.3,282.9 L189.0,283.5 L198.7,282.9 L208.4,282.4 L218.1,280.6 L227.9,275.9 L237.6,265.8 L247.3,262.7 L257.0,265.2 L266.7,263.3 L276.5,262.3 L286.2,261.4 L295.9,266.5 L305.6,264.3 L315.3,264.5 L325.1,261.7 L334.8,258.8 L344.5,266.7 L354.2,270.4 L363.9,268.3 L373.7,267.8 L383.4,270.2 L393.1,276.1 L402.8,279.2 L412.5,283.9 L422.3,293.7 L432.0,306.7 L441.7,304.8 L451.4,306.3 L461.1,306.4 L470.9,311.9 L480.6,314.0 L490.3,309.2 L500.0,310.7 L509.7,309.1 L519.5,305.5 L529.2,308.1 L538.9,309.8 L548.6,311.7 L558.3,311.5"/><path d="M62.6,261.6 L72.3,262.5 L82.1,265.4 L91.8,266.2 L101.5,262.9 L111.2,265.4 L120.9,267.2 L130.7,265.1 L140.4,264.1 L150.1,263.7 L159.8,260.6 L169.5,262.7 L179.3,266.4 L189.0,271.1 L198.7,270.0 L208.4,272.3 L218.1,270.6 L227.9,275.6 L237.6,279.3 L247.3,278.9 L257.0,273.5 L266.7,278.6 L276.5,273.8 L286.2,274.7 L295.9,276.7 L305.6,275.2 L315.3,270.6 L325.1,274.5 L334.8,273.3 L344.5,266.7 L354.2,267.1 L363.9,276.6 L373.7,283.5 L383.4,290.9 L393.1,295.6 L402.8,298.7 L412.5,297.6 L422.3,304.3 L432.0,307.7 L441.7,310.0 L451.4,313.8 L461.1,314.0 L470.9,310.0 L480.6,316.6 L490.3,318.2 L500.0,315.4 L509.7,315.4 L519.5,316.7 L529.2,315.8 L538.9,316.1 L548.6,317.2 L558.3,318.4"/><path d="M62.6,261.6 L72.3,263.9 L82.1,272.8 L91.8,278.4 L101.5,280.5 L111.2,279.6 L120.9,282.9 L130.7,289.7 L140.4,287.5 L150.1,288.9 L159.8,292.7 L169.5,295.2 L179.3,294.4 L189.0,293.7 L198.7,293.6 L208.4,292.4 L218.1,291.1 L227.9,294.3 L237.6,295.4 L247.3,296.6 L257.0,298.6 L266.7,302.1 L276.5,305.6 L286.2,310.6 L295.9,311.0 L305.6,307.2 L315.3,305.8 L325.1,300.6 L334.8,300.5 L344.5,300.8 L354.2,296.1 L363.9,300.7 L373.7,301.8 L383.4,311.8 L393.1,317.8 L402.8,316.2 L412.5,319.9 L422.3,330.8 L432.0,330.4 L441.7,329.6 L451.4,331.5 L461.1,328.9 L470.9,327.2 L480.6,327.6 L490.3,329.4 L500.0,327.2 L509.7,328.3 L519.5,327.7 L529.2,328.1 L538.9,323.4 L548.6,317.3 L558.3,319.0"/></g>
<path d="M62.6,261.6 L72.3,261.1 L82.1,261.1 L91.8,260.7 L101.5,260.7 L111.2,260.7 L120.9,260.7 L130.7,260.7 L140.4,260.2 L150.1,259.7 L159.8,259.2 L169.5,258.3 L179.3,257.3 L189.0,256.4 L198.7,255.4 L208.4,254.0 L218.1,252.1 L227.9,249.3 L237.6,246.4 L247.3,243.6 L257.0,243.1 L266.7,237.0 L276.5,231.3 L286.2,230.3 L295.9,228.9 L305.6,227.0 L315.3,226.5 L325.1,228.0 L334.8,228.0 L344.5,227.5 L354.2,227.0 L363.9,226.5 L373.7,226.1 L383.4,225.1 L393.1,224.6 L402.8,222.7 L412.5,217.1 L422.3,215.6 L432.0,215.6 L441.7,215.6 L451.4,211.4 L461.1,200.5 L470.9,184.4 L480.6,146.9 L490.3,145.5 L500.0,146.9 L509.7,146.9 L519.5,142.2 L529.2,142.2 L538.9,142.2 L548.6,142.2 L558.3,142.2" fill="none" stroke="#cc2a94" stroke-width="2.1" stroke-linejoin="round"/>
<path d="M62.6,261.6 L72.3,261.1 L82.1,260.7 L91.8,260.7 L101.5,260.7 L111.2,260.2 L120.9,260.2 L130.7,252.1 L140.4,226.5 L150.1,208.1 L159.8,140.3 L169.5,125.6 L179.3,110.9 L189.0,96.2 L198.7,96.2 L208.4,96.2 L218.1,100.5 L227.9,118.0 L237.6,175.4 L247.3,198.6 L257.0,237.0 L266.7,246.4 L276.5,255.4 L286.2,264.0 L295.9,273.9 L305.6,283.9 L315.3,292.9 L325.1,290.5 L334.8,292.9 L344.5,292.9 L354.2,290.5 L363.9,289.6 L373.7,273.9 L383.4,262.1 L393.1,256.4 L402.8,253.1 L412.5,250.7 L422.3,244.5 L432.0,234.6 L441.7,226.5 L451.4,220.9 L461.1,218.0 L470.9,214.7 L480.6,207.6 L490.3,201.9 L500.0,197.2 L509.7,193.8 L519.5,193.4 L529.2,187.2 L538.9,168.3 L548.6,162.6 L558.3,162.6" fill="none" stroke="#c8161d" stroke-width="2.1" stroke-linejoin="round"/>
<path d="M62.6,261.6 L72.3,266.3 L82.1,267.8 L91.8,265.4 L101.5,257.3 L111.2,258.8 L120.9,259.7 L130.7,254.5 L140.4,245.5 L150.1,240.8 L159.8,239.8 L169.5,240.3 L179.3,241.2 L189.0,240.3 L198.7,235.5 L208.4,227.0 L218.1,222.7 L227.9,217.5 L237.6,202.4 L247.3,182.5 L257.0,182.5 L266.7,175.4 L276.5,177.3 L286.2,179.6 L295.9,177.7 L305.6,182.0 L315.3,181.1 L325.1,174.4 L334.8,176.3 L344.5,168.7 L354.2,159.7 L363.9,158.3 L373.7,152.2 L383.4,151.7 L393.1,142.2 L402.8,127.0 L412.5,106.7 L422.3,103.4 L432.0,97.7 L441.7,103.4 L451.4,88.7 L461.1,92.9 L470.9,98.6 L480.6,96.7 L490.3,100.0 L500.0,113.8 L509.7,130.4 L519.5,155.5 L529.2,168.7 L538.9,166.4 L548.6,167.8 L558.3,166.8 L568.1,162.1" fill="none" stroke="#e89e28" stroke-width="2.1" stroke-linejoin="round"/>
<path d="M62.6,261.6 L72.3,252.1 L82.1,247.9 L91.8,247.9 L101.5,249.8 L111.2,245.5 L120.9,245.0 L130.7,252.1 L140.4,261.6 L150.1,268.2 L159.8,271.1 L169.5,274.4 L179.3,278.7 L189.0,279.6 L198.7,279.6 L208.4,282.0 L218.1,284.3 L227.9,287.7 L237.6,292.4 L247.3,291.0 L257.0,291.9 L266.7,291.0 L276.5,289.6 L286.2,288.6 L295.9,287.7 L305.6,282.0 L315.3,279.6 L325.1,281.0 L334.8,287.2 L344.5,293.8 L354.2,298.1 L363.9,304.2 L373.7,315.6 L383.4,329.4 L393.1,342.6 L402.8,344.5 L412.5,353.5 L422.3,361.6 L432.0,364.4 L441.7,372.0 L451.4,388.6 L461.1,408.0 L470.9,410.4 L480.6,422.2 L490.3,425.5 L500.0,427.9 L509.7,428.9 L519.5,433.6 L529.2,433.6 L538.9,435.5 L548.6,436.4 L558.3,437.9" fill="none" stroke="#7420bf" stroke-width="2.1" stroke-linejoin="round"/>
<path d="M62.6,261.6 L72.3,273.0 L82.1,270.6 L91.8,273.9 L101.5,273.9 L111.2,263.5 L120.9,267.8 L130.7,258.3 L140.4,249.8 L150.1,242.6 L159.8,236.5 L169.5,234.6 L179.3,221.8 L189.0,203.3 L198.7,211.9 L208.4,201.9 L218.1,209.5 L227.9,200.5 L237.6,188.6 L247.3,198.1 L257.0,200.0 L266.7,199.1 L276.5,213.3 L286.2,209.0 L295.9,203.3 L305.6,198.1 L315.3,192.9 L325.1,191.0 L334.8,200.0 L344.5,198.1 L354.2,207.1 L363.9,198.1 L373.7,200.0 L383.4,198.1 L393.1,201.9 L402.8,200.0 L412.5,193.8 L422.3,189.1 L432.0,183.9 L441.7,182.0 L451.4,180.6 L461.1,184.4 L470.9,175.4 L480.6,175.4 L490.3,169.2 L500.0,168.7 L509.7,165.9 L519.5,167.3 L529.2,170.6 L538.9,166.4 L548.6,169.2 L558.3,169.2" fill="none" stroke="#1b7a20" stroke-width="2.1" stroke-linejoin="round"/>
<path d="M62.6,261.6 L72.3,250.7 L82.1,245.5 L91.8,246.0 L101.5,246.0 L111.2,239.3 L120.9,228.4 L130.7,229.9 L140.4,236.0 L150.1,231.8 L159.8,217.1 L169.5,204.7 L179.3,192.9 L189.0,190.5 L198.7,177.3 L208.4,172.1 L218.1,172.5 L227.9,164.5 L237.6,163.0 L247.3,165.4 L257.0,172.5 L266.7,173.0 L276.5,166.4 L286.2,140.3 L295.9,138.9 L305.6,144.1 L315.3,163.0 L325.1,153.1 L334.8,151.7 L344.5,163.0 L354.2,177.7 L363.9,166.8 L373.7,171.1 L383.4,151.2 L393.1,146.0 L402.8,135.1 L412.5,128.9 L422.3,116.1 L432.0,96.7 L441.7,98.6 L451.4,86.3 L461.1,85.3 L470.9,78.7 L480.6,84.9" fill="none" stroke="#2080d0" stroke-width="2.1" stroke-linejoin="round"/>
<text x="478.0" y="81.7" font-family='"Liberation Sans", sans-serif' font-weight="bold" font-size="10.4" fill="#2080d0">2022</text>
<text x="556.2" y="139.6" font-family='"Liberation Sans", sans-serif' font-weight="bold" font-size="10.4" fill="#cc2a94">1979</text>
<text x="537.4" y="159.8" font-family='"Liberation Sans", sans-serif' font-weight="bold" font-size="10.4" fill="#c8161d">1980</text>
<text x="566.0" y="159.8" font-family='"Liberation Sans", sans-serif' font-weight="bold" font-size="10.4" fill="#e89e28">1981</text>
<text x="538.4" y="179.6" font-family='"Liberation Sans", sans-serif' font-weight="bold" font-size="10.4" fill="#1b7a20">1994</text>
<text x="538.0" y="448.7" font-family='"Liberation Sans", sans-serif' font-weight="bold" font-size="10.4" fill="#7420bf">1982</text>
<text x="31" y="75.9" text-anchor="end" font-family='"Liberation Serif", serif' font-size="11" fill="#2a2a2a" stroke="#2a2a2a" stroke-width="0.25">4</text>
<text x="31" y="170.6" text-anchor="end" font-family='"Liberation Serif", serif' font-size="11" fill="#2a2a2a" stroke="#2a2a2a" stroke-width="0.25">2</text>
<text x="31" y="265.4" text-anchor="end" font-family='"Liberation Serif", serif' font-size="11" fill="#2a2a2a" stroke="#2a2a2a" stroke-width="0.25">0</text>
<text x="31" y="360.2" text-anchor="end" font-family='"Liberation Serif", serif' font-size="11" fill="#2a2a2a" stroke="#2a2a2a" stroke-width="0.25">-2</text>
<text x="31" y="454.9" text-anchor="end" font-family='"Liberation Serif", serif' font-size="11" fill="#2a2a2a" stroke="#2a2a2a" stroke-width="0.25">-4</text>
<text x="52.9" y="469.3" text-anchor="middle" font-family='"Liberation Serif", serif' font-size="11" fill="#2a2a2a" stroke="#2a2a2a" stroke-width="0.25">0</text>
<text x="150.1" y="469.3" text-anchor="middle" font-family='"Liberation Serif", serif' font-size="11" fill="#2a2a2a" stroke="#2a2a2a" stroke-width="0.25">10</text>
<text x="247.3" y="469.3" text-anchor="middle" font-family='"Liberation Serif", serif' font-size="11" fill="#2a2a2a" stroke="#2a2a2a" stroke-width="0.25">20</text>
<text x="344.5" y="469.3" text-anchor="middle" font-family='"Liberation Serif", serif' font-size="11" fill="#2a2a2a" stroke="#2a2a2a" stroke-width="0.25">30</text>
<text x="441.7" y="469.3" text-anchor="middle" font-family='"Liberation Serif", serif' font-size="11" fill="#2a2a2a" stroke="#2a2a2a" stroke-width="0.25">40</text>
<text x="538.9" y="469.3" text-anchor="middle" font-family='"Liberation Serif", serif' font-size="11" fill="#2a2a2a" stroke="#2a2a2a" stroke-width="0.25">50</text>
<text x="276.5" y="483.3" textLength="77" lengthAdjust="spacingAndGlyphs" font-family='"Liberation Serif", serif' font-size="14" fill="#111" stroke="#111" stroke-width="0.5">week of year</text>
<text x="38" y="493" textLength="283" lengthAdjust="spacingAndGlyphs" font-family='"Liberation Serif", serif' font-size="7.8" fill="#111" stroke="#111" stroke-width="0.2">@lenkiefer | Data source: Freddie Mac Primary Mortgage Market Survey through 2022-11-03</text>
<text x="37.3" y="22.7" textLength="477" lengthAdjust="spacingAndGlyphs" font-family='"Liberation Serif", serif' font-weight="bold" font-size="17.5" fill="#000" stroke="#000" stroke-width="0.6">Year-to-date change in 30-year fixed mortgage rate by year</text>
<text x="37.3" y="40.8" textLength="260" lengthAdjust="spacingAndGlyphs" font-family='"Liberation Sans", sans-serif' font-style="italic" font-size="10" fill="#111" stroke="#111" stroke-width="0.25">percentage point change in rate from first week of the year</text>
<text x="37.3" y="51.1" textLength="131" lengthAdjust="spacingAndGlyphs" font-family='"Liberation Sans", sans-serif' font-style="italic" font-size="10" fill="#111" stroke="#111" stroke-width="0.25">gray lines all years 1971-2022</text>
</svg>
</body></html>
